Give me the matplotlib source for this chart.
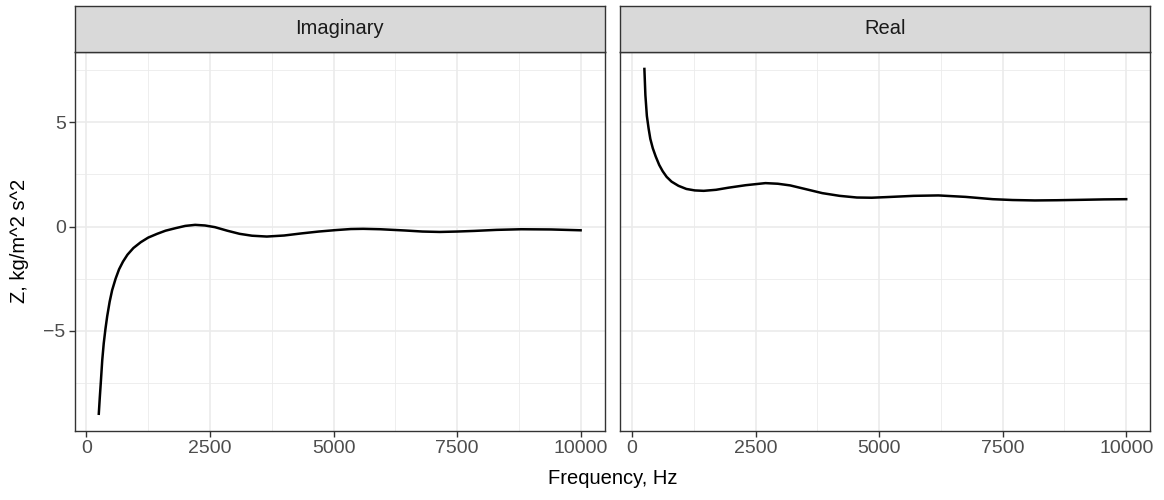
import numpy as np
import matplotlib.pyplot as plt

plt.rcParams['font.family'] = ['Liberation Sans', 'DejaVu Sans']

panels = ['Imaginary', 'Real']

imag_freq = [250, 270, 290, 320, 350, 385, 420, 470, 520, 590, 660, 740, 830, 950,
             1100, 1250, 1430, 1600, 1800, 2000, 2200, 2400, 2600, 2850, 3100, 3350,
             3650, 4000, 4350, 4700, 5050, 5350, 5600, 5950, 6450, 6800, 7150, 7500,
             7850, 8300, 8800, 9400, 10000]
imag_z = [-8.97, -8.2, -7.5, -6.4, -5.6, -4.9, -4.3, -3.6, -3.05, -2.5, -2.05, -1.68,
          -1.35, -1.03, -0.75, -0.53, -0.35, -0.2, -0.08, 0.03, 0.08, 0.05, -0.03,
          -0.2, -0.35, -0.44, -0.48, -0.43, -0.33, -0.24, -0.17, -0.12, -0.11, -0.13,
          -0.19, -0.24, -0.26, -0.24, -0.21, -0.16, -0.13, -0.14, -0.18]

real_freq = [250, 270, 300, 335, 370, 420, 480, 550, 620, 700, 800, 940, 1100, 1270,
             1450, 1700, 1950, 2300, 2700, 2950, 3200, 3500, 3850, 4200, 4550, 4850,
             5150, 5700, 6200, 6750, 7300, 7700, 8150, 8600, 9100, 9550, 10000]
real_z = [7.55, 6.3, 5.3, 4.7, 4.2, 3.75, 3.35, 2.95, 2.65, 2.38, 2.15, 1.95, 1.8, 1.73,
          1.71, 1.76, 1.86, 1.98, 2.08, 2.05, 1.97, 1.8, 1.6, 1.47, 1.39, 1.38,
          1.41, 1.47, 1.49, 1.42, 1.31, 1.27, 1.25, 1.26, 1.28, 1.3, 1.31]

x_major = [0, 2500, 5000, 7500, 10000]
x_minor = [1250, 3750, 6250, 8750]
y_major = [-5, 0, 5]
y_minor = [-7.5, -2.5, 2.5, 7.5]

W, H = 1164, 500
fig = plt.figure(figsize=(W / 100, H / 100), dpi=100)

frame = '#333333'
lefts = [74.7, 620.3]
pw = 530
top, bottom = 51.7, 431
strip_top = 6

data = [(imag_freq, imag_z), (real_freq, real_z)]
allx = imag_freq + real_freq
ally = imag_z + real_z
xr = max(allx) - min(allx)
yr = max(ally) - min(ally)
xlim = (min(allx) - 0.05 * xr, max(allx) + 0.05 * xr)
ylim = (min(ally) - 0.05 * yr, max(ally) + 0.05 * yr)

for i, (name, (fx, fz)) in enumerate(zip(panels, data)):
    ax = fig.add_axes([lefts[i] / W, (H - bottom) / H, pw / W, (bottom - top) / H])
    ax.set_xlim(xlim)
    ax.set_ylim(ylim)
    for v in x_minor:
        ax.axvline(v, color='#ebebeb', lw=0.6, zorder=0)
    for v in y_minor:
        ax.axhline(v, color='#ebebeb', lw=0.6, zorder=0)
    for v in x_major:
        ax.axvline(v, color='#ebebeb', lw=1.2, zorder=0)
    for v in y_major:
        ax.axhline(v, color='#ebebeb', lw=1.2, zorder=0)
    ax.plot(fx, fz, color='black', lw=1.8, zorder=3, solid_joinstyle='round')
    ax.set_xticks(x_major)
    ax.set_xticklabels([str(v) for v in x_major])
    ax.set_yticks(y_major)
    if i == 0:
        ax.set_yticklabels(['\u22125', '0', '5'])
    else:
        ax.tick_params(axis='y', left=False, labelleft=False)
    ax.tick_params(length=4, width=1.0, color=frame, labelcolor='#4d4d4d',
                   labelsize=14, pad=2.5)
    for s in ax.spines.values():
        s.set_color(frame)
        s.set_linewidth(1.0)

    sax = fig.add_axes([lefts[i] / W, (H - top) / H, pw / W, (top - strip_top) / H])
    sax.set_facecolor('#d9d9d9')
    sax.set_xticks([])
    sax.set_yticks([])
    for s in sax.spines.values():
        s.set_color(frame)
        s.set_linewidth(1.0)
    sax.text(0.5, 0.5, name, ha='center', va='center', fontsize=14.5,
             color='#1a1a1a', transform=sax.transAxes)

fig.text((lefts[0] + lefts[1] + pw) / 2 / W, 1 - 478 / H, 'Frequency, Hz',
         ha='center', va='center', fontsize=14.5, color='black')
fig.text(20 / W, 1 - (top + bottom) / 2 / H, 'Z, kg/m^2 s^2', rotation=90,
         ha='center', va='center', fontsize=14.5, color='black')

fig.savefig('out.png', dpi=100)
